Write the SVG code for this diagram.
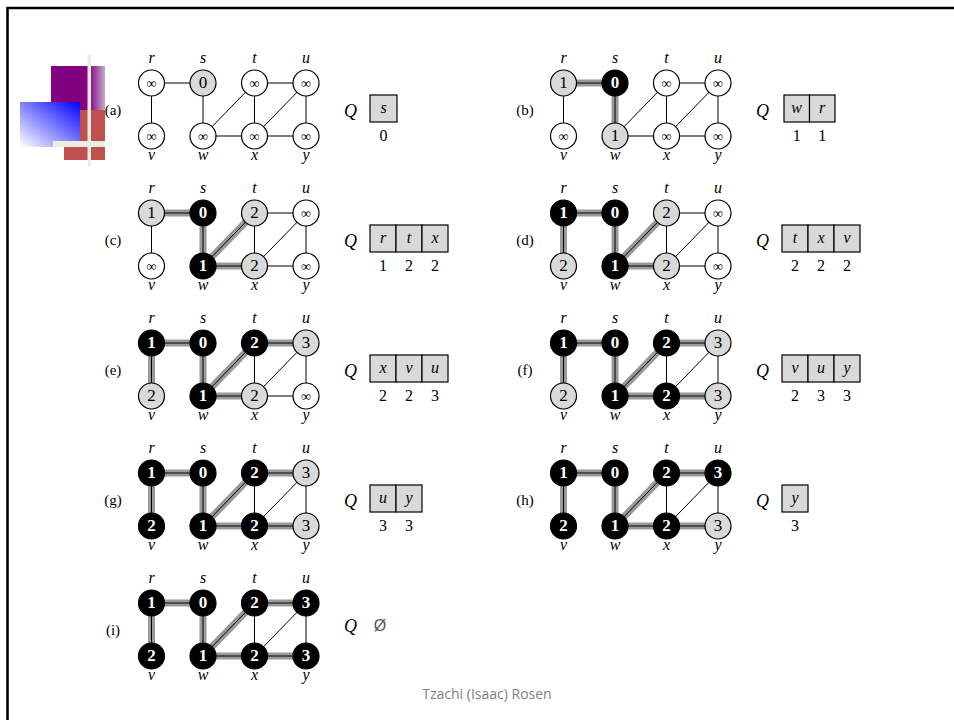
<svg xmlns="http://www.w3.org/2000/svg" width="954" height="720" viewBox="0 0 954 720">
<defs>
<linearGradient id="gp" x1="0" y1="0" x2="1" y2="0">
<stop offset="0" stop-color="#800080"/><stop offset="0.7" stop-color="#800080"/><stop offset="1" stop-color="#c4aac8"/>
</linearGradient>
<linearGradient id="gb" x1="0" y1="1" x2="1" y2="0">
<stop offset="0" stop-color="#ffffff"/><stop offset="1" stop-color="#0000ff"/>
</linearGradient>
</defs>
<style>
.e{stroke:#000;stroke-width:1;fill:none}
.te{stroke:#999;stroke-width:7;fill:none}
.n circle{stroke:#000;stroke-width:1.2}
.w circle{fill:#fff}
.g circle{fill:#d9d9d9}
.b circle{fill:#000}
.n text{font-family:'Liberation Serif','Times New Roman',serif;text-anchor:middle}
.w text,.g text{fill:#000;font-size:17px}
.b text{fill:#fff;font-size:17px;font-weight:bold}
.w text.inf{font-size:14px}
.lbl{font-family:'Liberation Serif','Times New Roman',serif;font-style:italic;font-size:16px;text-anchor:middle;fill:#000}
.pl{font-family:'Liberation Serif','Times New Roman',serif;font-size:15px;text-anchor:middle;fill:#000}
.q{font-family:'Liberation Serif','Times New Roman',serif;font-style:italic;font-size:18px;text-anchor:middle;fill:#000}
.qb{fill:#d9d9d9;stroke:#000;stroke-width:1.2}
.qt{font-family:'Liberation Serif','Times New Roman',serif;font-style:italic;font-size:16px;text-anchor:middle;fill:#000}
.qn{font-family:'Liberation Serif','Times New Roman',serif;font-size:16px;text-anchor:middle;fill:#000}
</style>
<rect width="954" height="720" fill="#fff"/>
<path d="M7.5 720 V8 H954" fill="none" stroke="#000" stroke-width="2.6"/>
<g id="decoration">
<rect x="51" y="66" width="54" height="44" fill="url(#gp)"/>
<rect x="64" y="110" width="41" height="50" fill="#c0504d"/>
<rect x="20" y="102" width="60" height="45" fill="url(#gb)"/>
<rect x="53" y="141" width="52" height="6" fill="#eeece1"/>
<rect x="87.5" y="55" width="3.5" height="111" fill="#eeece1"/>
</g>

<g id="connectors">
<g id="edges-a">
<path class="e" d="M151.5 83H203M151.5 83V136M203 83V136M203 136L254.5 83M203 136H254.5M254.5 83V136M254.5 83H306M254.5 136L306 83M254.5 136H306M306 83V136"/>
</g>
<g id="edges-b" transform="translate(412,0)">
<path class="te" d="M151.5 83H203M203 83V136"/>
<path class="e" d="M151.5 83H203M151.5 83V136M203 83V136M203 136L254.5 83M203 136H254.5M254.5 83V136M254.5 83H306M254.5 136L306 83M254.5 136H306M306 83V136"/>
</g>
<g id="edges-c" transform="translate(0,130)">
<path class="te" d="M151.5 83H203M203 83V136M203 136L254.5 83M203 136H254.5"/>
<path class="e" d="M151.5 83H203M151.5 83V136M203 83V136M203 136L254.5 83M203 136H254.5M254.5 83V136M254.5 83H306M254.5 136L306 83M254.5 136H306M306 83V136"/>
</g>
<g id="edges-d" transform="translate(412,130)">
<path class="te" d="M151.5 83H203M151.5 83V136M203 83V136M203 136L254.5 83M203 136H254.5"/>
<path class="e" d="M151.5 83H203M151.5 83V136M203 83V136M203 136L254.5 83M203 136H254.5M254.5 83V136M254.5 83H306M254.5 136L306 83M254.5 136H306M306 83V136"/>
</g>
<g id="edges-e" transform="translate(0,260)">
<path class="te" d="M151.5 83H203M151.5 83V136M203 83V136M203 136L254.5 83M203 136H254.5M254.5 83H306"/>
<path class="e" d="M151.5 83H203M151.5 83V136M203 83V136M203 136L254.5 83M203 136H254.5M254.5 83V136M254.5 83H306M254.5 136L306 83M254.5 136H306M306 83V136"/>
</g>
<g id="edges-f" transform="translate(412,260)">
<path class="te" d="M151.5 83H203M151.5 83V136M203 83V136M203 136L254.5 83M203 136H254.5M254.5 83H306M254.5 136H306"/>
<path class="e" d="M151.5 83H203M151.5 83V136M203 83V136M203 136L254.5 83M203 136H254.5M254.5 83V136M254.5 83H306M254.5 136L306 83M254.5 136H306M306 83V136"/>
</g>
<g id="edges-g" transform="translate(0,390)">
<path class="te" d="M151.5 83H203M151.5 83V136M203 83V136M203 136L254.5 83M203 136H254.5M254.5 83H306M254.5 136H306"/>
<path class="e" d="M151.5 83H203M151.5 83V136M203 83V136M203 136L254.5 83M203 136H254.5M254.5 83V136M254.5 83H306M254.5 136L306 83M254.5 136H306M306 83V136"/>
</g>
<g id="edges-h" transform="translate(412,390)">
<path class="te" d="M151.5 83H203M151.5 83V136M203 83V136M203 136L254.5 83M203 136H254.5M254.5 83H306M254.5 136H306"/>
<path class="e" d="M151.5 83H203M151.5 83V136M203 83V136M203 136L254.5 83M203 136H254.5M254.5 83V136M254.5 83H306M254.5 136L306 83M254.5 136H306M306 83V136"/>
</g>
<g id="edges-i" transform="translate(0,520)">
<path class="te" d="M151.5 83H203M151.5 83V136M203 83V136M203 136L254.5 83M203 136H254.5M254.5 83H306M254.5 136H306"/>
<path class="e" d="M151.5 83H203M151.5 83V136M203 83V136M203 136L254.5 83M203 136H254.5M254.5 83V136M254.5 83H306M254.5 136L306 83M254.5 136H306M306 83V136"/>
</g>
</g>

<!-- Panel a -->
<g id="panel-a">
<text class="pl" x="113" y="115">(a)</text>
<text class="lbl" x="151.5" y="63">r</text><text class="lbl" x="203" y="63">s</text><text class="lbl" x="254.5" y="63">t</text><text class="lbl" x="306" y="63">u</text>
<text class="lbl" x="151.5" y="160">v</text><text class="lbl" x="203" y="160">w</text><text class="lbl" x="254.5" y="160">x</text><text class="lbl" x="306" y="160">y</text>
<g id="a-r" class="n w"><circle cx="151.5" cy="83" r="13"/><text class="inf" x="151.5" y="87.5">∞</text></g>
<g id="a-s" class="n g"><circle cx="203" cy="83" r="13"/><text x="203" y="88">0</text></g>
<g id="a-t" class="n w"><circle cx="254.5" cy="83" r="13"/><text class="inf" x="254.5" y="87.5">∞</text></g>
<g id="a-u" class="n w"><circle cx="306" cy="83" r="13"/><text class="inf" x="306" y="87.5">∞</text></g>
<g id="a-v" class="n w"><circle cx="151.5" cy="136" r="13"/><text class="inf" x="151.5" y="140.5">∞</text></g>
<g id="a-w" class="n w"><circle cx="203" cy="136" r="13"/><text class="inf" x="203" y="140.5">∞</text></g>
<g id="a-x" class="n w"><circle cx="254.5" cy="136" r="13"/><text class="inf" x="254.5" y="140.5">∞</text></g>
<g id="a-y" class="n w"><circle cx="306" cy="136" r="13"/><text class="inf" x="306" y="140.5">∞</text></g>
<g id="a-queue">
<text class="q" x="350.5" y="117">Q</text>
<rect class="qb" x="370" y="95" width="27" height="27"/>
<text class="qt" x="383.5" y="113">s</text>
<text class="qn" x="383.5" y="141">0</text>
</g>
</g>

<!-- Panel b -->
<g id="panel-b" transform="translate(412,0)">
<text class="pl" x="113" y="115">(b)</text>
<text class="lbl" x="151.5" y="63">r</text><text class="lbl" x="203" y="63">s</text><text class="lbl" x="254.5" y="63">t</text><text class="lbl" x="306" y="63">u</text>
<text class="lbl" x="151.5" y="160">v</text><text class="lbl" x="203" y="160">w</text><text class="lbl" x="254.5" y="160">x</text><text class="lbl" x="306" y="160">y</text>
<g id="b-r" class="n g"><circle cx="151.5" cy="83" r="13"/><text x="151.5" y="88">1</text></g>
<g id="b-s" class="n b"><circle cx="203" cy="83" r="13"/><text x="203" y="88">0</text></g>
<g id="b-t" class="n w"><circle cx="254.5" cy="83" r="13"/><text class="inf" x="254.5" y="87.5">∞</text></g>
<g id="b-u" class="n w"><circle cx="306" cy="83" r="13"/><text class="inf" x="306" y="87.5">∞</text></g>
<g id="b-v" class="n w"><circle cx="151.5" cy="136" r="13"/><text class="inf" x="151.5" y="140.5">∞</text></g>
<g id="b-w" class="n g"><circle cx="203" cy="136" r="13"/><text x="203" y="141">1</text></g>
<g id="b-x" class="n w"><circle cx="254.5" cy="136" r="13"/><text class="inf" x="254.5" y="140.5">∞</text></g>
<g id="b-y" class="n w"><circle cx="306" cy="136" r="13"/><text class="inf" x="306" y="140.5">∞</text></g>
<g id="b-queue">
<text class="q" x="350.5" y="117">Q</text>
<rect class="qb" x="372" y="95" width="25.5" height="27"/><rect class="qb" x="397.5" y="95" width="25.5" height="27"/>
<text class="qt" x="384.7" y="113">w</text><text class="qt" x="410.2" y="113">r</text>
<text class="qn" x="384.7" y="141">1</text><text class="qn" x="410.2" y="141">1</text>
</g>
</g>

<!-- Panel c -->
<g id="panel-c" transform="translate(0,130)">
<text class="pl" x="113" y="115">(c)</text>
<text class="lbl" x="151.5" y="63">r</text><text class="lbl" x="203" y="63">s</text><text class="lbl" x="254.5" y="63">t</text><text class="lbl" x="306" y="63">u</text>
<text class="lbl" x="151.5" y="160">v</text><text class="lbl" x="203" y="160">w</text><text class="lbl" x="254.5" y="160">x</text><text class="lbl" x="306" y="160">y</text>
<g id="c-r" class="n g"><circle cx="151.5" cy="83" r="13"/><text x="151.5" y="88">1</text></g>
<g id="c-s" class="n b"><circle cx="203" cy="83" r="13"/><text x="203" y="88">0</text></g>
<g id="c-t" class="n g"><circle cx="254.5" cy="83" r="13"/><text x="254.5" y="88">2</text></g>
<g id="c-u" class="n w"><circle cx="306" cy="83" r="13"/><text class="inf" x="306" y="87.5">∞</text></g>
<g id="c-v" class="n w"><circle cx="151.5" cy="136" r="13"/><text class="inf" x="151.5" y="140.5">∞</text></g>
<g id="c-w" class="n b"><circle cx="203" cy="136" r="13"/><text x="203" y="141">1</text></g>
<g id="c-x" class="n g"><circle cx="254.5" cy="136" r="13"/><text x="254.5" y="141">2</text></g>
<g id="c-y" class="n w"><circle cx="306" cy="136" r="13"/><text class="inf" x="306" y="140.5">∞</text></g>
<g id="c-queue">
<text class="q" x="350.5" y="117">Q</text>
<rect class="qb" x="370" y="95" width="26" height="27"/><rect class="qb" x="396" y="95" width="26" height="27"/><rect class="qb" x="422" y="95" width="26" height="27"/>
<text class="qt" x="383" y="113">r</text><text class="qt" x="409" y="113">t</text><text class="qt" x="435" y="113">x</text>
<text class="qn" x="383" y="141">1</text><text class="qn" x="409" y="141">2</text><text class="qn" x="435" y="141">2</text>
</g>
</g>

<!-- Panel d -->
<g id="panel-d" transform="translate(412,130)">
<text class="pl" x="113" y="115">(d)</text>
<text class="lbl" x="151.5" y="63">r</text><text class="lbl" x="203" y="63">s</text><text class="lbl" x="254.5" y="63">t</text><text class="lbl" x="306" y="63">u</text>
<text class="lbl" x="151.5" y="160">v</text><text class="lbl" x="203" y="160">w</text><text class="lbl" x="254.5" y="160">x</text><text class="lbl" x="306" y="160">y</text>
<g id="d-r" class="n b"><circle cx="151.5" cy="83" r="13"/><text x="151.5" y="88">1</text></g>
<g id="d-s" class="n b"><circle cx="203" cy="83" r="13"/><text x="203" y="88">0</text></g>
<g id="d-t" class="n g"><circle cx="254.5" cy="83" r="13"/><text x="254.5" y="88">2</text></g>
<g id="d-u" class="n w"><circle cx="306" cy="83" r="13"/><text class="inf" x="306" y="87.5">∞</text></g>
<g id="d-v" class="n g"><circle cx="151.5" cy="136" r="13"/><text x="151.5" y="141">2</text></g>
<g id="d-w" class="n b"><circle cx="203" cy="136" r="13"/><text x="203" y="141">1</text></g>
<g id="d-x" class="n g"><circle cx="254.5" cy="136" r="13"/><text x="254.5" y="141">2</text></g>
<g id="d-y" class="n w"><circle cx="306" cy="136" r="13"/><text class="inf" x="306" y="140.5">∞</text></g>
<g id="d-queue">
<text class="q" x="350.5" y="117">Q</text>
<rect class="qb" x="370" y="95" width="26" height="27"/><rect class="qb" x="396" y="95" width="26" height="27"/><rect class="qb" x="422" y="95" width="26" height="27"/>
<text class="qt" x="383" y="113">t</text><text class="qt" x="409" y="113">x</text><text class="qt" x="435" y="113">v</text>
<text class="qn" x="383" y="141">2</text><text class="qn" x="409" y="141">2</text><text class="qn" x="435" y="141">2</text>
</g>
</g>

<!-- Panel e -->
<g id="panel-e" transform="translate(0,260)">
<text class="pl" x="113" y="115">(e)</text>
<text class="lbl" x="151.5" y="63">r</text><text class="lbl" x="203" y="63">s</text><text class="lbl" x="254.5" y="63">t</text><text class="lbl" x="306" y="63">u</text>
<text class="lbl" x="151.5" y="160">v</text><text class="lbl" x="203" y="160">w</text><text class="lbl" x="254.5" y="160">x</text><text class="lbl" x="306" y="160">y</text>
<g id="e-r" class="n b"><circle cx="151.5" cy="83" r="13"/><text x="151.5" y="88">1</text></g>
<g id="e-s" class="n b"><circle cx="203" cy="83" r="13"/><text x="203" y="88">0</text></g>
<g id="e-t" class="n b"><circle cx="254.5" cy="83" r="13"/><text x="254.5" y="88">2</text></g>
<g id="e-u" class="n g"><circle cx="306" cy="83" r="13"/><text x="306" y="88">3</text></g>
<g id="e-v" class="n g"><circle cx="151.5" cy="136" r="13"/><text x="151.5" y="141">2</text></g>
<g id="e-w" class="n b"><circle cx="203" cy="136" r="13"/><text x="203" y="141">1</text></g>
<g id="e-x" class="n g"><circle cx="254.5" cy="136" r="13"/><text x="254.5" y="141">2</text></g>
<g id="e-y" class="n w"><circle cx="306" cy="136" r="13"/><text class="inf" x="306" y="140.5">∞</text></g>
<g id="e-queue">
<text class="q" x="350.5" y="117">Q</text>
<rect class="qb" x="370" y="95" width="26" height="27"/><rect class="qb" x="396" y="95" width="26" height="27"/><rect class="qb" x="422" y="95" width="26" height="27"/>
<text class="qt" x="383" y="113">x</text><text class="qt" x="409" y="113">v</text><text class="qt" x="435" y="113">u</text>
<text class="qn" x="383" y="141">2</text><text class="qn" x="409" y="141">2</text><text class="qn" x="435" y="141">3</text>
</g>
</g>

<!-- Panel f -->
<g id="panel-f" transform="translate(412,260)">
<text class="pl" x="113" y="115">(f)</text>
<text class="lbl" x="151.5" y="63">r</text><text class="lbl" x="203" y="63">s</text><text class="lbl" x="254.5" y="63">t</text><text class="lbl" x="306" y="63">u</text>
<text class="lbl" x="151.5" y="160">v</text><text class="lbl" x="203" y="160">w</text><text class="lbl" x="254.5" y="160">x</text><text class="lbl" x="306" y="160">y</text>
<g id="f-r" class="n b"><circle cx="151.5" cy="83" r="13"/><text x="151.5" y="88">1</text></g>
<g id="f-s" class="n b"><circle cx="203" cy="83" r="13"/><text x="203" y="88">0</text></g>
<g id="f-t" class="n b"><circle cx="254.5" cy="83" r="13"/><text x="254.5" y="88">2</text></g>
<g id="f-u" class="n g"><circle cx="306" cy="83" r="13"/><text x="306" y="88">3</text></g>
<g id="f-v" class="n g"><circle cx="151.5" cy="136" r="13"/><text x="151.5" y="141">2</text></g>
<g id="f-w" class="n b"><circle cx="203" cy="136" r="13"/><text x="203" y="141">1</text></g>
<g id="f-x" class="n b"><circle cx="254.5" cy="136" r="13"/><text x="254.5" y="141">2</text></g>
<g id="f-y" class="n g"><circle cx="306" cy="136" r="13"/><text x="306" y="141">3</text></g>
<g id="f-queue">
<text class="q" x="350.5" y="117">Q</text>
<rect class="qb" x="370" y="95" width="26" height="27"/><rect class="qb" x="396" y="95" width="26" height="27"/><rect class="qb" x="422" y="95" width="26" height="27"/>
<text class="qt" x="383" y="113">v</text><text class="qt" x="409" y="113">u</text><text class="qt" x="435" y="113">y</text>
<text class="qn" x="383" y="141">2</text><text class="qn" x="409" y="141">3</text><text class="qn" x="435" y="141">3</text>
</g>
</g>

<!-- Panel g -->
<g id="panel-g" transform="translate(0,390)">
<text class="pl" x="113" y="115">(g)</text>
<text class="lbl" x="151.5" y="63">r</text><text class="lbl" x="203" y="63">s</text><text class="lbl" x="254.5" y="63">t</text><text class="lbl" x="306" y="63">u</text>
<text class="lbl" x="151.5" y="160">v</text><text class="lbl" x="203" y="160">w</text><text class="lbl" x="254.5" y="160">x</text><text class="lbl" x="306" y="160">y</text>
<g id="g-r" class="n b"><circle cx="151.5" cy="83" r="13"/><text x="151.5" y="88">1</text></g>
<g id="g-s" class="n b"><circle cx="203" cy="83" r="13"/><text x="203" y="88">0</text></g>
<g id="g-t" class="n b"><circle cx="254.5" cy="83" r="13"/><text x="254.5" y="88">2</text></g>
<g id="g-u" class="n g"><circle cx="306" cy="83" r="13"/><text x="306" y="88">3</text></g>
<g id="g-v" class="n b"><circle cx="151.5" cy="136" r="13"/><text x="151.5" y="141">2</text></g>
<g id="g-w" class="n b"><circle cx="203" cy="136" r="13"/><text x="203" y="141">1</text></g>
<g id="g-x" class="n b"><circle cx="254.5" cy="136" r="13"/><text x="254.5" y="141">2</text></g>
<g id="g-y" class="n g"><circle cx="306" cy="136" r="13"/><text x="306" y="141">3</text></g>
<g id="g-queue">
<text class="q" x="350.5" y="117">Q</text>
<rect class="qb" x="370" y="95" width="26" height="27"/><rect class="qb" x="396" y="95" width="26" height="27"/>
<text class="qt" x="383" y="113">u</text><text class="qt" x="409" y="113">y</text>
<text class="qn" x="383" y="141">3</text><text class="qn" x="409" y="141">3</text>
</g>
</g>

<!-- Panel h -->
<g id="panel-h" transform="translate(412,390)">
<text class="pl" x="113" y="115">(h)</text>
<text class="lbl" x="151.5" y="63">r</text><text class="lbl" x="203" y="63">s</text><text class="lbl" x="254.5" y="63">t</text><text class="lbl" x="306" y="63">u</text>
<text class="lbl" x="151.5" y="160">v</text><text class="lbl" x="203" y="160">w</text><text class="lbl" x="254.5" y="160">x</text><text class="lbl" x="306" y="160">y</text>
<g id="h-r" class="n b"><circle cx="151.5" cy="83" r="13"/><text x="151.5" y="88">1</text></g>
<g id="h-s" class="n b"><circle cx="203" cy="83" r="13"/><text x="203" y="88">0</text></g>
<g id="h-t" class="n b"><circle cx="254.5" cy="83" r="13"/><text x="254.5" y="88">2</text></g>
<g id="h-u" class="n b"><circle cx="306" cy="83" r="13"/><text x="306" y="88">3</text></g>
<g id="h-v" class="n b"><circle cx="151.5" cy="136" r="13"/><text x="151.5" y="141">2</text></g>
<g id="h-w" class="n b"><circle cx="203" cy="136" r="13"/><text x="203" y="141">1</text></g>
<g id="h-x" class="n b"><circle cx="254.5" cy="136" r="13"/><text x="254.5" y="141">2</text></g>
<g id="h-y" class="n g"><circle cx="306" cy="136" r="13"/><text x="306" y="141">3</text></g>
<g id="h-queue">
<text class="q" x="350.5" y="117">Q</text>
<rect class="qb" x="370" y="95" width="26" height="27"/>
<text class="qt" x="383" y="113">y</text>
<text class="qn" x="383" y="141">3</text>
</g>
</g>

<!-- Panel i -->
<g id="panel-i" transform="translate(0,520)">
<text class="pl" x="113" y="115">(i)</text>
<text class="lbl" x="151.5" y="63">r</text><text class="lbl" x="203" y="63">s</text><text class="lbl" x="254.5" y="63">t</text><text class="lbl" x="306" y="63">u</text>
<text class="lbl" x="151.5" y="160">v</text><text class="lbl" x="203" y="160">w</text><text class="lbl" x="254.5" y="160">x</text><text class="lbl" x="306" y="160">y</text>
<g id="i-r" class="n b"><circle cx="151.5" cy="83" r="13"/><text x="151.5" y="88">1</text></g>
<g id="i-s" class="n b"><circle cx="203" cy="83" r="13"/><text x="203" y="88">0</text></g>
<g id="i-t" class="n b"><circle cx="254.5" cy="83" r="13"/><text x="254.5" y="88">2</text></g>
<g id="i-u" class="n b"><circle cx="306" cy="83" r="13"/><text x="306" y="88">3</text></g>
<g id="i-v" class="n b"><circle cx="151.5" cy="136" r="13"/><text x="151.5" y="141">2</text></g>
<g id="i-w" class="n b"><circle cx="203" cy="136" r="13"/><text x="203" y="141">1</text></g>
<g id="i-x" class="n b"><circle cx="254.5" cy="136" r="13"/><text x="254.5" y="141">2</text></g>
<g id="i-y" class="n b"><circle cx="306" cy="136" r="13"/><text x="306" y="141">3</text></g>
<g id="i-queue">
<text class="q" x="350.5" y="112">Q</text>
<text x="380" y="111" font-family="Liberation Sans,sans-serif" font-size="16" fill="#555" text-anchor="middle">Ø</text>
</g>
</g>

<text x="487" y="699" font-family="Open Sans,sans-serif" font-size="14" fill="#7f7f7f" text-anchor="middle">Tzachi (Isaac) Rosen</text>
</svg>
